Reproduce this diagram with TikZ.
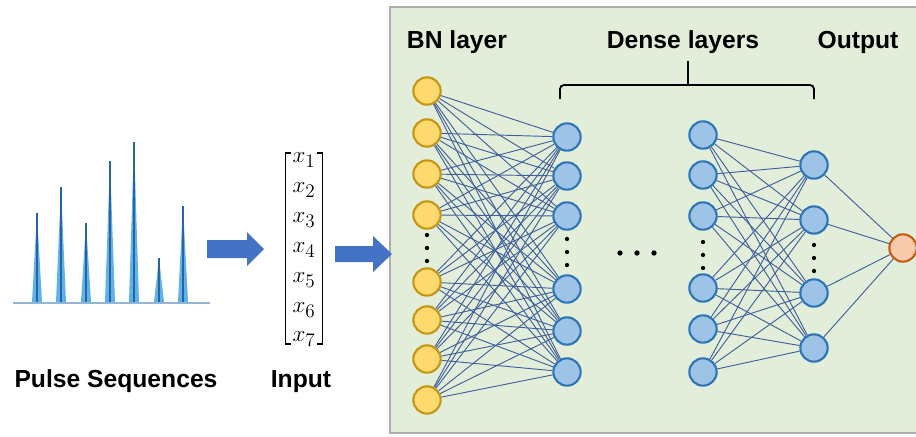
\documentclass[tikz,border=0pt]{standalone}
\usepackage{fontspec}
\setmainfont{Liberation Sans}
\definecolor{boxgreen}{RGB}{226,238,217}
\definecolor{boxline}{RGB}{170,175,170}
\definecolor{bnfill}{RGB}{255,217,110}
\definecolor{bnline}{RGB}{196,150,20}
\definecolor{dfill}{RGB}{157,195,230}
\definecolor{dline}{RGB}{46,117,182}
\definecolor{ofill}{RGB}{248,203,173}
\definecolor{oline}{RGB}{197,90,17}
\definecolor{edgecol}{RGB}{65,95,155}
\definecolor{arrowblue}{RGB}{68,114,196}
\definecolor{pulsefill}{RGB}{95,178,230}
\definecolor{pulseline}{RGB}{35,100,170}
\definecolor{pulsebase}{RGB}{150,180,215}
\begin{document}
\begin{tikzpicture}[x=0.75pt,y=-0.75pt,
  neuron/.style={circle,inner sep=0pt,minimum size=20.5pt,line width=1.6pt},
  bn/.style={neuron,fill=bnfill,draw=bnline},
  dn/.style={neuron,fill=dfill,draw=dline},
  on/.style={neuron,fill=ofill,draw=oline},
  edge/.style={draw=edgecol,line width=0.7pt},
  lab/.style={font=\bfseries\fontsize{18.5}{20}\selectfont,anchor=base,inner sep=0pt},
  xent/.style={font=\fontsize{19}{19}\selectfont,inner sep=0pt},
  dotc/.style={circle,fill=black,inner sep=0pt,minimum size=3.2pt},
  blockarrow/.style={fill=arrowblue,draw=none}]
\clip (0,0) rectangle (916,436);
\fill[white] (0,0) rectangle (916,436);
% green panel
\draw[fill=boxgreen,draw=boxline,line width=1pt] (390,7) rectangle (930,433);
% pulses
\draw[pulsebase,line width=1.5pt] (13,303) -- (210,303);
\foreach \px/\py in {37/213,61/187,86/223,110/161,134/142,159/258,183/206}{
  \fill[pulsefill] (\px-5,302) -- (\px,\py) -- (\px+5,302) -- cycle;
  \draw[pulseline,line width=0.9pt] (\px,302) -- (\px,\py);
}
% block arrows
\fill[blockarrow] (207,240) -- (247,240) -- (247,232) -- (264,249) -- (247,266) -- (247,258) -- (207,258) -- cycle;
\fill[blockarrow] (335,246) -- (373,246) -- (373,236) -- (392,254) -- (373,272) -- (373,262) -- (335,262) -- cycle;
% input vector
\foreach \y [count=\i] in {160,190,220,250,280,310,339}
  \node[xent] (x\i) at (304,\y) {$x_{\i}$};
\draw[line width=1.1pt] (291,153) -- (285.5,153) -- (285.5,344) -- (291,344);
\draw[line width=1.1pt] (317,153) -- (322.5,153) -- (322.5,344) -- (317,344);
% labels
\node[lab] (lps) at (116,387) {Pulse Sequences};
\node[lab] (lin) at (301,387) {Input};
\node[lab] (lbn) at (457,48) {BN layer};
\node[lab] (lde) at (683,48) {Dense layers};
\node[lab] (lou) at (858,48) {Output};
% bracket
\draw[line width=1.4pt,rounded corners=3pt] (560,99) -- (560,85) -- (814,85) -- (814,99);
\draw[line width=1.4pt] (688,85) -- (688,61);
% neurons
\foreach \y [count=\i] in {91,133,174,215,282,320,359,400}
  \node[bn] (b\i) at (427,\y) {};
\foreach \y [count=\i] in {137,176,216,289,331,372}
  \node[dn] (c\i) at (567,\y) {};
\foreach \y [count=\i] in {135,175,216,288,329,372}
  \node[dn] (d\i) at (703,\y) {};
\foreach \y [count=\i] in {165,220,293,348}
  \node[dn] (e\i) at (814,\y) {};
\node[on] (o1) at (903,248) {};
% connections
\foreach \i in {1,...,8}
  \foreach \j in {1,...,6}
    \draw[edge] (b\i) -- (c\j);
\foreach \i in {1,...,6}
  \foreach \j in {1,...,4}
    \draw[edge] (d\i) -- (e\j);
\foreach \j in {1,...,4}
  \draw[edge] (e\j) -- (o1);
% vertical dots
\foreach \y [count=\i] in {235,248,261} \node[dotc] (bd\i) at (427,\y) {};
\foreach \y [count=\i] in {239,252,265} \node[dotc] (cd\i) at (567,\y) {};
\foreach \y [count=\i] in {242,255,268} \node[dotc] (dd\i) at (703,\y) {};
\foreach \y [count=\i] in {245,258,271} \node[dotc] (ed\i) at (814,\y) {};
% horizontal ellipsis
\foreach \x [count=\i] in {620,637,654} \node[dotc,minimum size=4pt] (hd\i) at (\x,253) {};
\end{tikzpicture}
\end{document}
